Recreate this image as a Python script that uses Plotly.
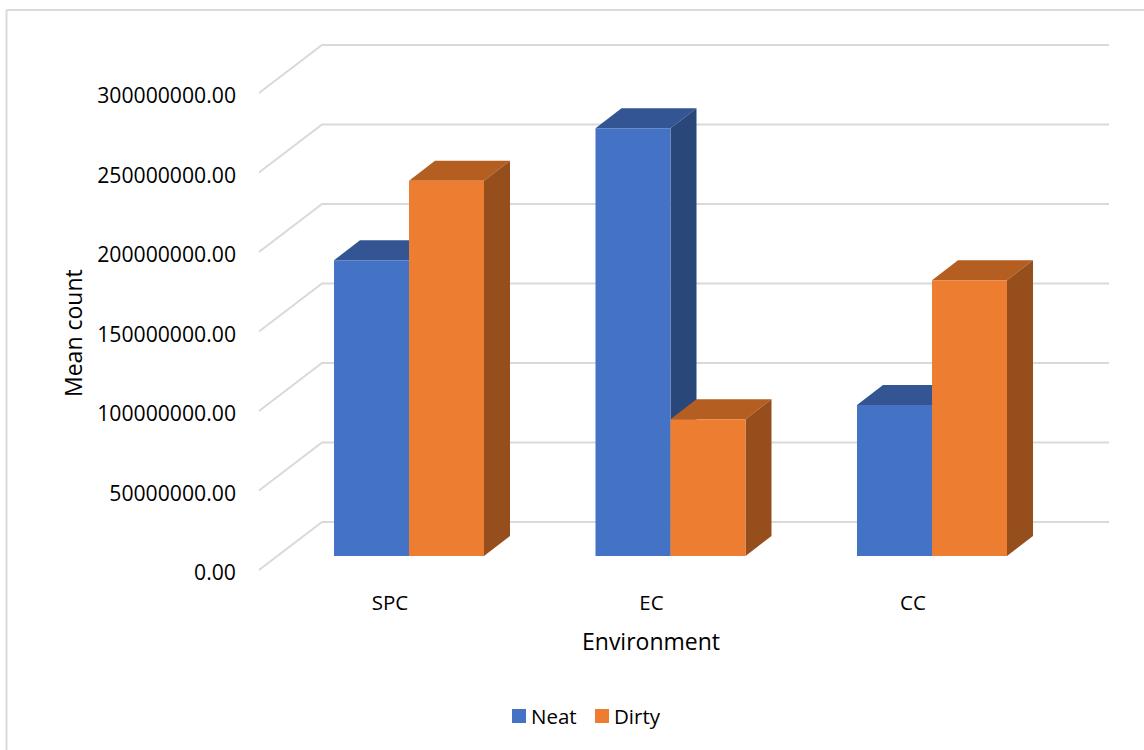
import plotly.graph_objects as go

# Chart data
categories = ["SPC", "EC", "CC"]
series_names = ["Neat", "Dirty"]
neat_values = [186000000, 269000000, 95000000]
dirty_values = [236000000, 86000000, 173500000]
value_ticks = [0, 50000000, 100000000, 150000000, 200000000, 250000000, 300000000]

# Page geometry, in pixels
WIDTH, HEIGHT = 1144, 750
PLOT_L, PLOT_R, PLOT_T, PLOT_B = 237, 1120, 20, 588
CAT_ORIGIN_PX, CAT_STEP_PX = 409, 261.5
ZERO_PX, PX_PER_UNIT = 556, 79.5 / 50000000

x_range = [(PLOT_L - CAT_ORIGIN_PX) / CAT_STEP_PX, (PLOT_R - CAT_ORIGIN_PX) / CAT_STEP_PX]
y_range = [(ZERO_PX - PLOT_B) / PX_PER_UNIT, (ZERO_PX - PLOT_T) / PX_PER_UNIT]


def dx(px):
    return px / CAT_STEP_PX


def dy(px):
    return px / PX_PER_UNIT


BAR_W = dx(75)
BAR_DX, BAR_DY = dx(26), dy(20)
FRONT_DY = dy(-14)            # axis edge of the floor, below the bar baseline
TICK_DY = dy(-17)             # tick labels sit slightly under the floor edge
WALL_DY = dy(34)              # back wall, above the bar baseline
WALL_X0, WALL_X1 = dx(322 - CAT_ORIGIN_PX), dx(1109 - CAT_ORIGIN_PX)
EDGE_X0 = dx(259 - CAT_ORIGIN_PX)

BLUE, BLUE_TOP, BLUE_SIDE = "#4472C4", "#335593", "#2A4779"
ORANGE, ORANGE_TOP, ORANGE_SIDE = "#ED7D31", "#B55E22", "#974E1D"
GRID = "#D9D9D9"
FONT = "Open Sans"
FONT_SIZE = 20.5
TITLE_SIZE = 23

fig = go.Figure()

# Floor diagonals and back-wall gridlines
grid_x, grid_y = [], []
for v in value_ticks:
    grid_x += [EDGE_X0, WALL_X0, WALL_X1, None]
    grid_y += [v + FRONT_DY, v + WALL_DY, v + WALL_DY, None]
fig.add_trace(go.Scatter(x=grid_x, y=grid_y, mode="lines", showlegend=False, hoverinfo="skip",
                         line=dict(color=GRID, width=2)))


def depth_faces(values, left, top_color, side_color):
    """Add the top and right faces of one series' bars."""
    for i, v in enumerate(values):
        x0, x1 = i + left, i + left + BAR_W
        fig.add_trace(go.Scatter(
            x=[x0, x1, x1 + BAR_DX, x0 + BAR_DX, x0], y=[v, v, v + BAR_DY, v + BAR_DY, v],
            mode="lines", fill="toself", fillcolor=top_color, line=dict(width=0),
            showlegend=False, hoverinfo="skip"))
        fig.add_trace(go.Scatter(
            x=[x1, x1 + BAR_DX, x1 + BAR_DX, x1, x1], y=[0, BAR_DY, v + BAR_DY, v, 0],
            mode="lines", fill="toself", fillcolor=side_color, line=dict(width=0),
            showlegend=False, hoverinfo="skip"))


depth_faces(neat_values, -BAR_W, BLUE_TOP, BLUE_SIDE)
depth_faces(dirty_values, 0, ORANGE_TOP, ORANGE_SIDE)

# Front faces sit on an overlaid axis pair so they cover the depth faces
x_pos = list(range(len(categories)))
fig.add_trace(go.Bar(x=x_pos, y=neat_values, name=series_names[0], width=BAR_W, offset=-BAR_W,
                     marker=dict(color=BLUE, line=dict(width=0)), xaxis="x2", yaxis="y2",
                     showlegend=False))
fig.add_trace(go.Bar(x=x_pos, y=dirty_values, name=series_names[1], width=BAR_W, offset=0,
                     marker=dict(color=ORANGE, line=dict(width=0)), xaxis="x2", yaxis="y2",
                     showlegend=False))

paper_x = lambda px: (px - PLOT_L) / (PLOT_R - PLOT_L)
paper_y = lambda px: (PLOT_B - px) / (PLOT_B - PLOT_T)


def paper_line(x0, y0, x1, y1):
    return dict(type="line", xref="paper", yref="paper", x0=paper_x(x0), x1=paper_x(x1),
                y0=paper_y(y0), y1=paper_y(y1), line=dict(color=GRID, width=2))


def key_swatch(px, color):
    return dict(type="rect", xref="paper", yref="paper", x0=paper_x(px), x1=paper_x(px + 14),
                y0=paper_y(709), y1=paper_y(723), fillcolor=color, line=dict(width=0))


def page_text(px, py, text, size, xanchor="left", angle=0):
    return dict(text=text, xref="paper", yref="paper", x=paper_x(px), y=paper_y(py),
                xanchor=xanchor, yanchor="middle", showarrow=False, textangle=angle,
                font=dict(size=size))


fig.update_layout(
    width=WIDTH, height=HEIGHT, autosize=False,
    margin=dict(l=PLOT_L, r=WIDTH - PLOT_R, t=PLOT_T, b=HEIGHT - PLOT_B, pad=0),
    paper_bgcolor="white", plot_bgcolor="rgba(0,0,0,0)",
    font=dict(family=FONT, size=FONT_SIZE, color="#000000"),
    barmode="overlay",
    showlegend=False,
    xaxis=dict(range=x_range, showgrid=False, zeroline=False, showline=False, ticks="",
               tickmode="array", tickvals=[i + dx(-19) for i in x_pos], ticktext=categories),
    yaxis=dict(range=y_range, showgrid=False, zeroline=False, showline=False, ticks="",
               tickmode="array", tickvals=[v + TICK_DY for v in value_ticks],
               ticktext=[f"{v:.2f}" for v in value_ticks], tickfont=dict(size=21.2)),
    xaxis2=dict(range=x_range, overlaying="x", visible=False),
    yaxis2=dict(range=y_range, overlaying="y", visible=False),
    shapes=[
        paper_line(6.5, 10, 1144, 10),
        paper_line(6.5, 10, 6.5, 750),
        key_swatch(512, BLUE),
        key_swatch(595, ORANGE),
    ],
    annotations=[
        page_text(651, 641, "Environment", TITLE_SIZE, xanchor="center"),
        page_text(73, 333, "Mean count", TITLE_SIZE, xanchor="center", angle=-90),
        page_text(529, 716, series_names[0], FONT_SIZE),
        page_text(612, 716, series_names[1], FONT_SIZE),
    ],
)

fig.write_html("out.html")
